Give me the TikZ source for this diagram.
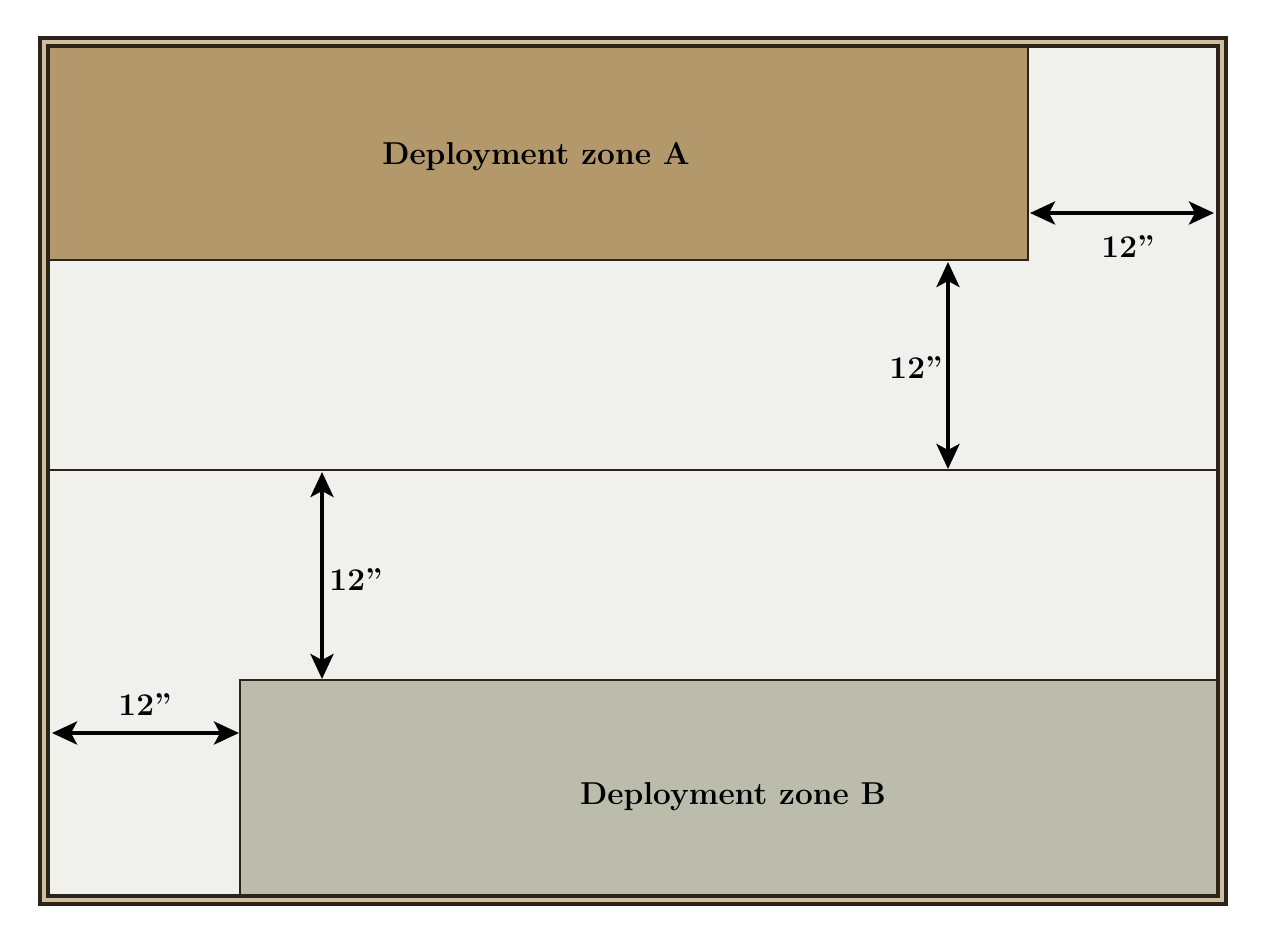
\documentclass[tikz,border=0pt]{standalone}
\usetikzlibrary{arrows.meta}
\definecolor{paper}{RGB}{240,240,237}
\definecolor{zonea}{RGB}{178,152,106}
\definecolor{zoneb}{RGB}{188,188,172}
\definecolor{framedark}{RGB}{45,35,25}
\definecolor{framelight}{RGB}{205,190,160}
\begin{document}
\begin{tikzpicture}[x=0.02cm,y=-0.02cm]
\tikzstyle{zone}=[draw=framedark,line width=0.04cm]
\tikzstyle{label}=[font=\fontsize{18}{21}\selectfont\bfseries,text=black]
\tikzstyle{measure}=[line width=0.08cm,{Stealth[length=0.5cm,width=0.46cm,inset=0.12cm]}-{Stealth[length=0.5cm,width=0.46cm,inset=0.12cm]}]
\useasboundingbox (0,0) rectangle (1267,927);
\fill[white] (0,0) rectangle (1267,927);
\fill[paper] (44,42) rectangle (1222,900);

% deployment zones
\fill[zonea] (50,48) rectangle (1028,260);
\draw[zone] (50,260) -- (1028,260) -- (1028,48);
\fill[zoneb] (240,680) rectangle (1216,894);
\draw[zone] (240,894) -- (240,680) -- (1216,680);
\draw[zone] (50,470) -- (1216,470);

% frame
\draw[line width=0.24cm,framedark] (44,42) rectangle (1222,900);
\draw[line width=0.07cm,framelight] (44,42) rectangle (1222,900);

\path (536,157) node[label](za){Deployment zone A}
      (733,797) node[label](zb){Deployment zone B};

\coordinate (a1) at (1030,213);
\coordinate (a2) at (1214,213);
\coordinate (b1) at (948,262);
\coordinate (b2) at (948,469);
\coordinate (c1) at (322,472);
\coordinate (c2) at (322,679);
\coordinate (d1) at (52,733);
\coordinate (d2) at (239,733);

\draw[measure] (a1) -- (a2);
\draw[measure] (b1) -- (b2);
\draw[measure] (c1) -- (c2);
\draw[measure] (d1) -- (d2);

\path (1128,247) node[label](la){12"}
      (916,368) node[label](lb){12"}
      (356,580) node[label](lc){12"}
      (145,705) node[label](ld){12"};
\end{tikzpicture}
\end{document}
